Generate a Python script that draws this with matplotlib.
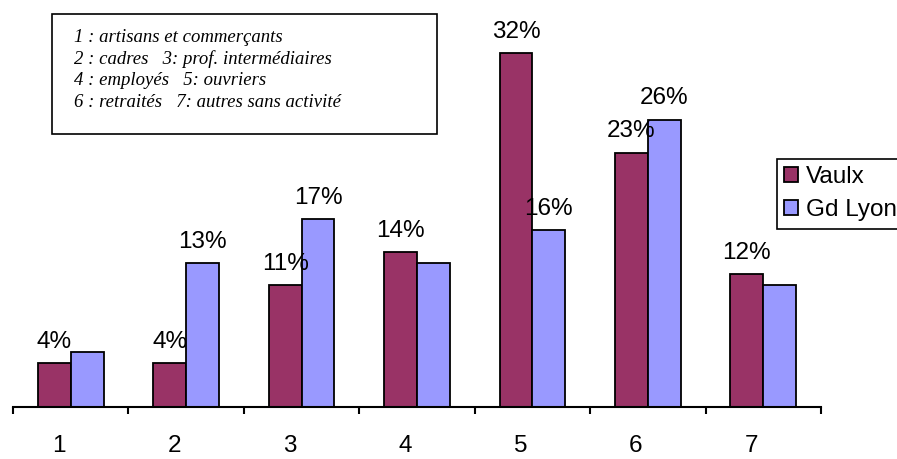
import matplotlib

matplotlib.use("Agg")
import matplotlib.pyplot as plt
import numpy as np
from matplotlib.patches import Rectangle
from matplotlib.transforms import ScaledTranslation

categories = ["1", "2", "3", "4", "5", "6", "7"]
vaulx = [4, 4, 11, 14, 32, 23, 12]
gd_lyon = [5, 13, 17, 13, 16, 26, 11]
# only some bars carry a label in the original
vaulx_labels = ["4%", "4%", "11%", "14%", "32%", "23%", "12%"]
gd_lyon_labels = [None, "13%", "17%", None, "16%", "26%", None]
legend_names = ["Vaulx", "Gd Lyon"]
note_lines = [
    "1 : artisans et commerçants",
    "2 : cadres   3: prof. intermédiaires",
    "4 : employés   5: ouvriers",
    "6 : retraités   7: autres sans activité",
]

plt.rcParams["font.family"] = ["Liberation Sans", "DejaVu Sans"]

fig = plt.figure(figsize=(8.97, 4.59), dpi=100)
ax = fig.add_axes([13 / 897, 52 / 459, 808 / 897, 398 / 459])

x = np.arange(1, len(categories) + 1)
w = 0.285
b1 = ax.bar(x - w / 2, vaulx, w, color="#993366", edgecolor="black", linewidth=1.3,
            label=legend_names[0])
b2 = ax.bar(x + w / 2, gd_lyon, w, color="#9999FF", edgecolor="black", linewidth=1.3,
            label=legend_names[1])

for xi, v, lab in zip(x - w / 2, vaulx, vaulx_labels):
    if lab:
        ax.annotate(lab, (xi, v), xytext=(0, 11), textcoords="offset points",
                    ha="center", va="baseline", fontsize=17.5)
for xi, v, lab in zip(x + w / 2, gd_lyon, gd_lyon_labels):
    if lab:
        ax.annotate(lab, (xi, v), xytext=(0, 11), textcoords="offset points",
                    ha="center", va="baseline", fontsize=17.5)

ax.set_xlim(0.5, len(categories) + 0.5)
ax.set_ylim(0, 36)
ax.set_yticks([])
for s in ["left", "right", "top"]:
    ax.spines[s].set_visible(False)
ax.spines["bottom"].set_linewidth(1.5)

ax.set_xticks(np.arange(0.5, len(categories) + 1, 1))
ax.set_xticklabels([])
ax.tick_params(axis="x", which="major", direction="out", length=5, width=1.5)
ax.set_xticks(x, minor=True)
ax.set_xticklabels(categories, minor=True, fontsize=17.5)
ax.tick_params(axis="x", which="minor", length=0, pad=20)
for t in ax.get_xticklabels(minor=True):
    t.set_transform(t.get_transform() + ScaledTranslation(-0.12, 0, fig.dpi_scale_trans))

ax.legend(loc="upper left", bbox_to_anchor=(777 / 897, 1 - 159 / 459),
          bbox_transform=fig.transFigure, borderaxespad=0, fancybox=False,
          edgecolor="black", framealpha=1, fontsize=17.5, handlelength=0.55,
          handleheight=0.55, handletextpad=0.35, labelspacing=0.45, borderpad=0.3)
ax.get_legend().get_frame().set_linewidth(1.2)

# note box at top left
fig.patches.append(Rectangle((52 / 897, 1 - 134 / 459), 385 / 897, 120 / 459,
                             transform=fig.transFigure, facecolor="white",
                             edgecolor="black", linewidth=1.2))
for i, line in enumerate(note_lines):
    fig.text(74 / 897, 1 - (42 + i * 21.7) / 459, line, fontsize=13.5,
             family="Liberation Serif", style="italic", va="baseline")

fig.savefig("out.png", dpi=100)
